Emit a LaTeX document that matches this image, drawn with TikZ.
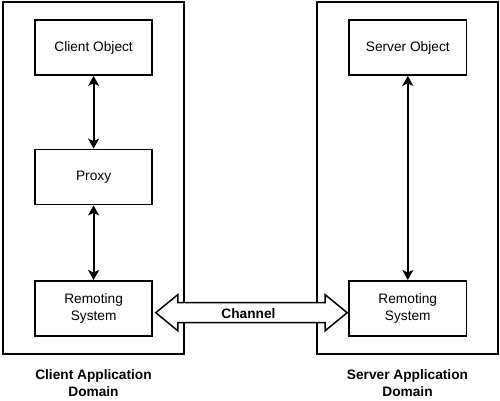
\documentclass[tikz,border=0pt]{standalone}
\usepackage{fontspec}
\setmainfont{Liberation Sans}
\usetikzlibrary{arrows.meta,calc}
\begin{document}
\begin{tikzpicture}[x=1pt,y=-1pt,
  domainbox/.style={draw,line width=2pt,minimum width=181.5pt,minimum height=352pt,inner sep=0pt},
  objbox/.style={draw,line width=1.8pt,minimum width=117.5pt,minimum height=55pt,inner sep=0pt,align=center,font=\fontsize{13.7}{16.7}\selectfont},
  linkarrow/.style={line width=2pt,{Stealth[length=10pt,width=11pt,inset=2.5pt]}-{Stealth[length=10pt,width=11pt,inset=2.5pt]}},
  chanarrow/.style={draw,line width=1.5pt,fill=white},
  lbltext/.style={align=center,font=\fontsize{13.7}{17}\selectfont\bfseries}]
\useasboundingbox (0,0) rectangle (500,400);
\node[domainbox] (cd) at (93.4,178) {};
\node[domainbox] (sd) at (407.5,178) {};
\node[objbox] (co) at (93.6,47.5) {Client Object};
\node[objbox] (px) at (93.6,177) {Proxy};
\node[objbox] (rl) at (93.6,308.4) {Remoting\\System};
\node[objbox] (so) at (407.8,47.5) {Server Object};
\node[objbox] (rr) at (407.8,308.4) {Remoting\\System};
\draw[linkarrow] (co.south) -- (px.north);
\draw[linkarrow] (px.south) -- (rl.north);
\draw[linkarrow] (so.south) -- (rr.north);
\coordinate (ctl) at ($(rl.east)+(2.5,4.3)$);
\coordinate (ctr) at ($(rr.west)+(-1,4.3)$);
\draw[chanarrow] (ctl) -- ++(22,-18) -- ++(0,8) -- ($(ctr)+(-22,-10)$) -- ++(0,-8) -- (ctr)
  -- ++(-22,18) -- ++(0,-8) -- ($(ctl)+(22,10)$) -- ++(0,8) -- cycle;
\node[lbltext] (ch) at ($(ctl)!0.5!(ctr)+(-3,1)$) {Channel};
\node[lbltext] (cl) at (93.5,383.5) {Client Application\\Domain};
\node[lbltext] (sl) at (407.5,383.5) {Server Application\\Domain};
\end{tikzpicture}
\end{document}
